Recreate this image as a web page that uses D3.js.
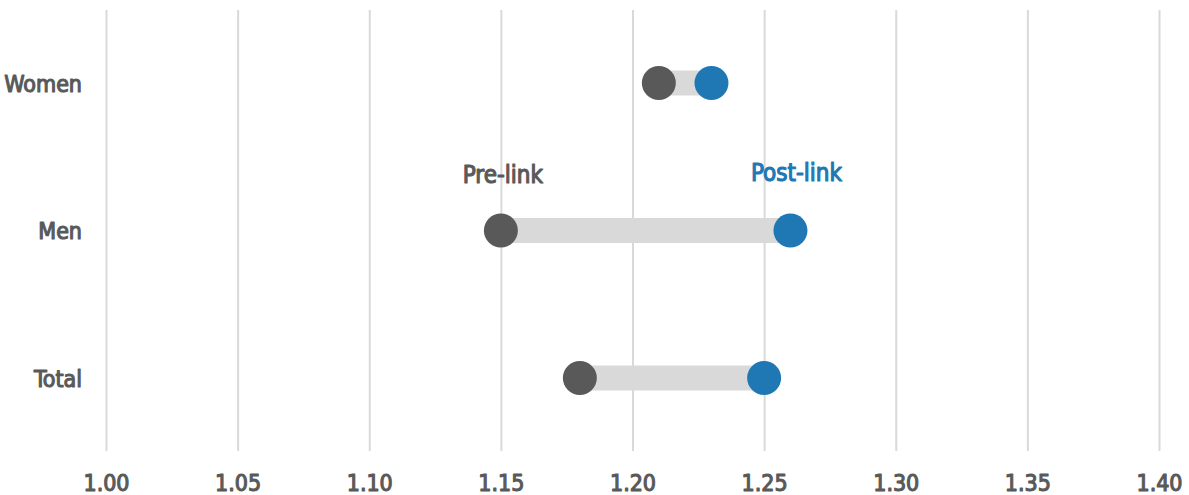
<!DOCTYPE html>
<html>
<head>
<meta charset="utf-8">
<script src="https://cdn.jsdelivr.net/npm/d3@7"></script>
<style>
  html, body { margin: 0; padding: 0; background: #ffffff; }
  svg text { font-family: "DejaVu Sans Condensed", "DejaVu Sans", sans-serif; font-stretch: condensed; }
</style>
</head>
<body>
<svg id="chart" width="1189" height="495"></svg>
<script>
// Dumbbell chart: pre-link vs post-link values by group
const categories = ["Women", "Men", "Total"];
const preLink = [1.21, 1.15, 1.18];
const postLink = [1.23, 1.26, 1.25];
const tickValues = [1.00, 1.05, 1.10, 1.15, 1.20, 1.25, 1.30, 1.35, 1.40];
const seriesNames = ["Pre-link", "Post-link"];

const svg = d3.select("#chart");
const x = d3.scaleLinear().domain([1.00, 1.40]).range([106, 1159]);
const y = d3.scalePoint().domain(categories).range([83, 378]);

const grey = "#595959", blue = "#1f78b4", bar = "#d9d9d9";

// text weight: regular face with an outline for a semibold look
function heavy(sel, color) {
  sel.attr("fill", color).attr("stroke", color).attr("stroke-width", 1.1)
    .attr("stroke-linejoin", "round");
}

// vertical gridlines and value labels
const xAxis = d3.axisBottom(x).tickValues(tickValues).tickFormat(d3.format(".2f"))
  .tickSize(-441).tickPadding(24);
const gx = svg.append("g").attr("transform", "translate(0,451)").call(xAxis);
gx.select(".domain").remove();
gx.selectAll(".tick line").attr("stroke", "#d9d9d9").attr("stroke-width", 2);
gx.selectAll(".tick text").attr("font-size", 23).attr("dy", "0.71em")
  .call(heavy, grey);

// category labels
const yAxis = d3.axisLeft(y).tickSize(0).tickPadding(0);
const gy = svg.append("g").attr("transform", "translate(82,0)").call(yAxis);
gy.select(".domain").remove();
gy.selectAll(".tick text").attr("font-size", 23).attr("dy", "0.36em")
  .call(heavy, grey);

const rows = categories.map((c, i) => ({ c, pre: preLink[i], post: postLink[i] }));

// connecting bars
svg.append("g").selectAll("line").data(rows).join("line")
  .attr("x1", d => x(d.pre)).attr("x2", d => x(d.post))
  .attr("y1", d => y(d.c)).attr("y2", d => y(d.c))
  .attr("stroke", bar).attr("stroke-width", 25);

// pre-link points
svg.append("g").selectAll("circle").data(rows).join("circle")
  .attr("cx", d => x(d.pre)).attr("cy", d => y(d.c)).attr("r", 17)
  .attr("fill", grey);

// post-link points
svg.append("g").selectAll("circle").data(rows).join("circle")
  .attr("cx", d => x(d.post)).attr("cy", d => y(d.c)).attr("r", 17)
  .attr("fill", blue);

// series labels above the Men row
const men = rows[1];
svg.append("text").attr("x", x(men.pre) + 2).attr("y", 183)
  .attr("text-anchor", "middle").attr("font-size", 24)
  .call(heavy, grey).text(seriesNames[0]);
svg.append("text").attr("x", x(men.post) + 6).attr("y", 181)
  .attr("text-anchor", "middle").attr("font-size", 24)
  .call(heavy, blue).text(seriesNames[1]);
</script>
</body>
</html>
